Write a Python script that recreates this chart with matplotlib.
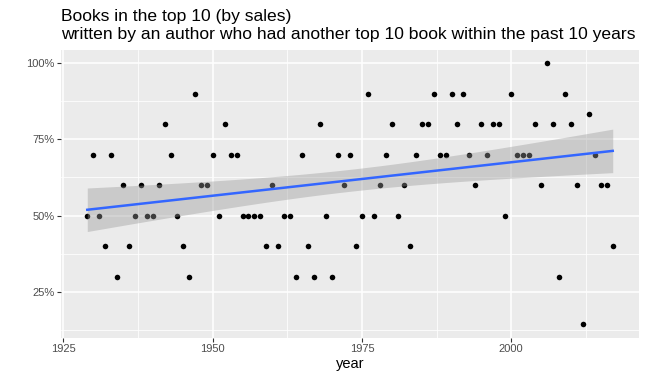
import numpy as np
import matplotlib.pyplot as plt
from matplotlib.ticker import FuncFormatter, FixedLocator

# share of top-10 books whose author had another top-10 book in the previous 10 years
years = list(range(1929, 2018))
share = [0.5, 0.7, 0.5, 0.4, 0.7, 0.3, 0.6, 0.4, 0.5, 0.6,
         0.5, 0.5, 0.6, 0.8, 0.7, 0.5, 0.4, 0.3, 0.9, 0.6,
         0.6, 0.7, 0.5, 0.8, 0.7, 0.7, 0.5, 0.5, 0.5, 0.5,
         0.4, 0.6, 0.4, 0.5, 0.5, 0.3, 0.7, 0.4, 0.3, 0.8,
         0.5, 0.3, 0.7, 0.6, 0.7, 0.4, 0.5, 0.9, 0.5, 0.6,
         0.7, 0.8, 0.5, 0.6, 0.4, 0.7, 0.8, 0.8, 0.9, 0.7,
         0.7, 0.9, 0.8, 0.9, 0.7, 0.6, 0.8, 0.7, 0.8, 0.8,
         0.5, 0.9, 0.7, 0.7, 0.7, 0.8, 0.6, 1.0, 0.8, 0.3,
         0.9, 0.8, 0.6, 1/7, 5/6, 0.7, 0.6, 0.6, 0.4]

x_ticks = [1925, 1950, 1975, 2000]
y_ticks = [0.25, 0.5, 0.75, 1.0]
title_lines = ['Books in the top 10 (by sales)',
               'written by an author who had another top 10 book within the past 10 years']

x = np.array(years, dtype=float)
y = np.array(share)

# linear fit + 95% confidence band, like geom_smooth(method = "lm")
n = len(x)
slope, intercept = np.polyfit(x, y, 1)
resid = y - (intercept + slope * x)
s = np.sqrt(np.sum(resid ** 2) / (n - 2))
t_crit = 1.988  # t(0.975, df = 87)
xs = np.linspace(x.min(), x.max(), 80)
fit = intercept + slope * xs
se = s * np.sqrt(1 / n + (xs - x.mean()) ** 2 / np.sum((x - x.mean()) ** 2))

plt.rcParams['font.family'] = ['Liberation Sans', 'DejaVu Sans']

fig = plt.figure(figsize=(6.47, 3.8), dpi=100)
ax = fig.add_axes([61 / 647, 1 - 337.5 / 380, 578 / 647, 287.5 / 380])
ax.set_facecolor('#EBEBEB')

ax.scatter(x, y, s=16, color='black', linewidths=0, zorder=3)
ax.fill_between(xs, fit - t_crit * se, fit + t_crit * se, color='#999999', alpha=0.4,
                linewidth=0, zorder=4)
ax.plot(xs, fit, color='#3366FF', linewidth=1.8, zorder=5)

xr = x.max() - x.min()
yr = y.max() - y.min()
ax.set_xlim(x.min() - 0.05 * xr, x.max() + 0.05 * xr)
ax.set_ylim(y.min() - 0.05 * yr, y.max() + 0.05 * yr)

ax.xaxis.set_major_locator(FixedLocator(x_ticks))
ax.yaxis.set_major_locator(FixedLocator(y_ticks))
ax.xaxis.set_minor_locator(FixedLocator([1937.5, 1962.5, 1987.5, 2012.5]))
ax.yaxis.set_minor_locator(FixedLocator([0.125, 0.375, 0.625, 0.875]))
ax.yaxis.set_major_formatter(FuncFormatter(lambda v, p: f'{v * 100:.0f}%'))

ax.grid(which='major', color='white', linewidth=1.1)
ax.grid(which='minor', color='white', linewidth=0.55)
ax.set_axisbelow(True)
for sp in ax.spines.values():
    sp.set_visible(False)

ax.tick_params(which='major', length=2.7, width=0.8, color='#333333',
               labelcolor='#4D4D4D', labelsize=8, pad=2)
ax.tick_params(which='minor', length=0)

ax.set_xlabel('year', fontsize=10.5, color='black', labelpad=2)

# two-line title, left aligned with the panel
fig.text(61 / 647, 1 - 21 / 380, title_lines[0], fontsize=12.6, ha='left', va='baseline')
fig.text(61 / 647, 1 - 39 / 380, title_lines[1], fontsize=12.6, ha='left', va='baseline')

fig.savefig('out.png', dpi=100)
